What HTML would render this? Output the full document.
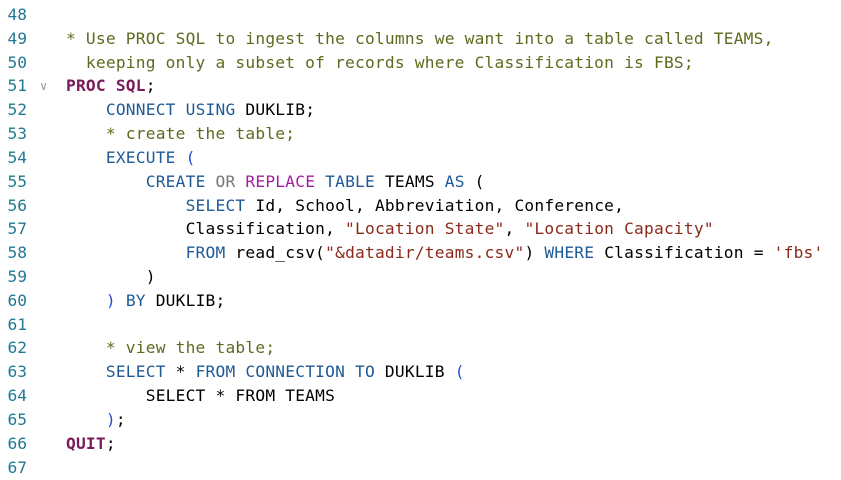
<!DOCTYPE html>
<html><head><style>
html,body{margin:0;padding:0;background:#fff;width:841px;height:478px;overflow:hidden}
.l{position:absolute;left:0;height:24px;line-height:24px;font-family:"DejaVu Sans Mono","Liberation Mono",monospace;font-size:16.2px;white-space:pre;color:#000}
.n{position:absolute;left:0;width:27px;text-align:right;color:#237893}
.c{position:absolute;left:66px;letter-spacing:0.22px}
.k{color:#1f5a96}.p{color:#7a1a5a;font-weight:bold}.m{color:#5e6a1e}.s{color:#8a2a1a}.o{color:#777}.r{color:#a020a0}.b{color:#2a4ad0}
.chev{position:absolute;left:40px;color:#999;font-size:12px}
</style></head><body>
<div class="l" style="top:3px"><span class="n">48</span></div>
<div class="l" style="top:27px"><span class="n">49</span><span class="c m">* Use PROC SQL to ingest the columns we want into a table called TEAMS,</span></div>
<div class="l" style="top:51px"><span class="n">50</span><span class="c m">  keeping only a subset of records where Classification is FBS;</span></div>
<div class="l" style="top:74px"><span class="n">51</span><span class="chev">&#8744;</span><span class="c"><span class="p">PROC SQL</span>;</span></div>
<div class="l" style="top:98px"><span class="n">52</span><span class="c">    <span class="k">CONNECT USING</span> DUKLIB;</span></div>
<div class="l" style="top:122px"><span class="n">53</span><span class="c m">    * create the table;</span></div>
<div class="l" style="top:146px"><span class="n">54</span><span class="c">    <span class="k">EXECUTE</span> <span class="b">(</span></span></div>
<div class="l" style="top:170px"><span class="n">55</span><span class="c">        <span class="k">CREATE</span> <span class="o">OR</span> <span class="r">REPLACE</span> <span class="k">TABLE</span> TEAMS <span class="k">AS</span> (</span></div>
<div class="l" style="top:194px"><span class="n">56</span><span class="c">            <span class="k">SELECT</span> Id, School, Abbreviation, Conference,</span></div>
<div class="l" style="top:217px"><span class="n">57</span><span class="c">            Classification, <span class="s">"Location State"</span>, <span class="s">"Location Capacity"</span></span></div>
<div class="l" style="top:241px"><span class="n">58</span><span class="c">            <span class="k">FROM</span> read_csv(<span class="s">"&amp;datadir/teams.csv"</span>) <span class="k">WHERE</span> Classification = <span class="s">'fbs'</span></span></div>
<div class="l" style="top:265px"><span class="n">59</span><span class="c">        )</span></div>
<div class="l" style="top:289px"><span class="n">60</span><span class="c">    <span class="b">)</span> <span class="k">BY</span> DUKLIB;</span></div>
<div class="l" style="top:313px"><span class="n">61</span></div>
<div class="l" style="top:336px"><span class="n">62</span><span class="c m">    * view the table;</span></div>
<div class="l" style="top:360px"><span class="n">63</span><span class="c">    <span class="k">SELECT</span> * <span class="k">FROM CONNECTION TO</span> DUKLIB <span class="b">(</span></span></div>
<div class="l" style="top:384px"><span class="n">64</span><span class="c">        SELECT * FROM TEAMS</span></div>
<div class="l" style="top:408px"><span class="n">65</span><span class="c">    <span class="b">)</span>;</span></div>
<div class="l" style="top:432px"><span class="n">66</span><span class="c"><span class="p">QUIT</span>;</span></div>
<div class="l" style="top:456px"><span class="n">67</span></div>
</body></html>
